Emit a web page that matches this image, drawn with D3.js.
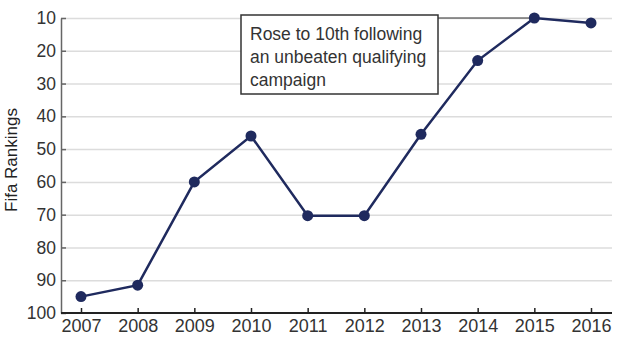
<!DOCTYPE html>
<html lang="en">
<head>
  <meta charset="utf-8">
  <title>Fifa Rankings</title>
  <script src="https://d3js.org/d3.v7.min.js"></script>
  <style>
    body { margin: 0; background: #fff; }
    svg { display: block; font-family: "Liberation Sans", Arial, sans-serif; }
    .grid line { stroke: #dcdcdc; stroke-width: 1.5; }
    .grid path { display: none; }
    .axis text { fill: #333; }
  </style>
</head>
<body>
<script>

  // data
  var years = [2007, 2008, 2009, 2010, 2011, 2012, 2013, 2014, 2015, 2016];
  var ranks = [95, 91.5, 60, 46, 70.3, 70.3, 45.5, 23, 10, 11.5];
  var yTicks = [10, 20, 30, 40, 50, 60, 70, 80, 90, 100];
  var note = ["Rose to 10th following", "an unbeaten qualifying", "campaign"];

  var width = 624, height = 351;
  var margin = {top: 18, right: 12, bottom: 38, left: 61};

  var svg = d3.select("body").append("svg")
      .attr("width", width)
      .attr("height", height);

  var x = d3.scaleLinear()
      .domain([2007, 2016])
      .range([81, 591]);

  var y = d3.scaleLinear()
      .domain([10, 100])
      .range([margin.top, height - margin.bottom]);

  // gridlines
  svg.append("g")
      .attr("class", "grid")
      .attr("transform", "translate(" + margin.left + ",0)")
      .call(d3.axisRight(y).tickValues(yTicks.slice(0, -1)).tickSize(width - margin.right - margin.left).tickFormat(""));

  // y axis
  var yAxis = svg.append("g")
      .attr("class", "axis")
      .attr("transform", "translate(" + margin.left + ",0)")
      .call(d3.axisLeft(y).tickValues(yTicks).tickSize(-5).tickPadding(5).tickSizeOuter(0));
  yAxis.select(".domain").attr("stroke", "#666").attr("stroke-width", 1.5);
  yAxis.selectAll(".tick line").attr("stroke", "#666").attr("stroke-width", 1.5);
  yAxis.selectAll("text").style("font-size", "17.5px");

  // x axis
  var xAxis = svg.append("g")
      .attr("class", "axis")
      .attr("transform", "translate(0," + (height - margin.bottom) + ")")
      .call(d3.axisBottom(x).tickValues(years).tickFormat(d3.format("d")).tickSize(-5).tickPadding(6).tickSizeOuter(0));
  xAxis.select(".domain")
      .attr("d", "M" + margin.left + ",0H" + (width - margin.right))
      .attr("stroke", "#222").attr("stroke-width", 2);
  xAxis.selectAll(".tick line").attr("stroke", "#222").attr("stroke-width", 1.5);
  xAxis.selectAll("text").style("font-size", "18px");

  // y label
  svg.append("text")
      .attr("transform", "translate(17," + 160 + ") rotate(-90)")
      .attr("text-anchor", "middle")
      .style("font-size", "17px")
      .attr("fill", "#222")
      .text("Fifa Rankings");

  // annotation
  var boxX = 241, boxY = 15, boxW = 197, boxH = 79;
  svg.append("line")
      .attr("x1", boxX + boxW).attr("x2", x(2015))
      .attr("y1", y(10)).attr("y2", y(10))
      .attr("stroke", "#333").attr("stroke-width", 1.2);

  svg.append("rect")
      .attr("x", boxX).attr("y", boxY)
      .attr("width", boxW).attr("height", boxH)
      .attr("fill", "#fff")
      .attr("stroke", "#333").attr("stroke-width", 1.5);

  svg.append("g").selectAll("text")
      .data(note)
      .join("text")
      .attr("x", 250)
      .attr("y", function(d, i) { return 39.5 + i * 23.3; })
      .style("font-size", "17.5px")
      .attr("fill", "#333")
      .text(function(d) { return d; });

  // line + points
  var data = years.map(function(d, i) { return {year: d, rank: ranks[i]}; });

  var line = d3.line()
      .x(function(d) { return x(d.year); })
      .y(function(d) { return y(d.rank); });

  svg.append("path")
      .datum(data)
      .attr("d", line)
      .attr("fill", "none")
      .attr("stroke", "#1f2a5e")
      .attr("stroke-width", 2.5);

  svg.selectAll("circle")
      .data(data)
      .join("circle")
      .attr("cx", function(d) { return x(d.year); })
      .attr("cy", function(d) { return y(d.rank); })
      .attr("r", 5.5)
      .attr("fill", "#1f2a5e");

</script>
</body>
</html>
